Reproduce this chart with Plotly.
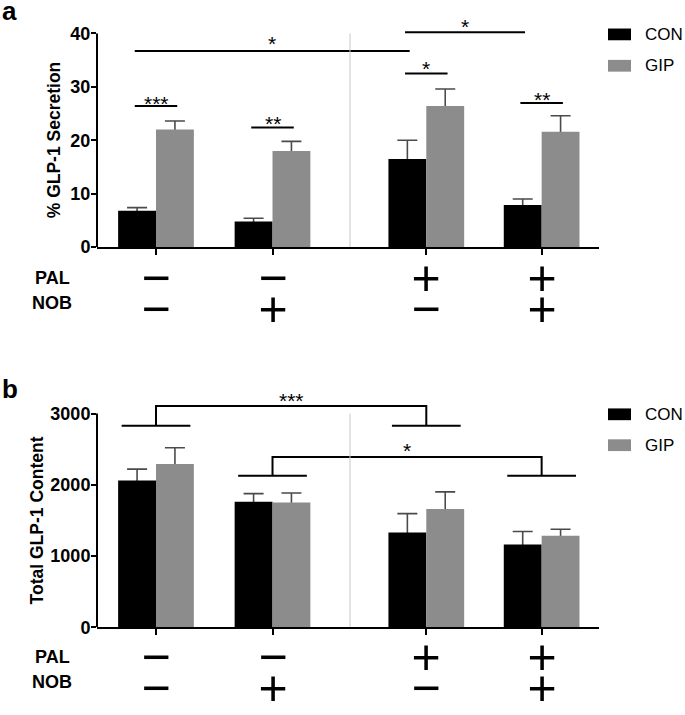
import plotly.graph_objects as go

# ---------------- data ----------------
series = ["CON", "GIP"]
pal = ["\u2212", "\u2212", "+", "+"]
nob = ["\u2212", "+", "\u2212", "+"]

secretion_con = [6.8, 4.8, 16.5, 7.9]
secretion_con_err = [0.6, 0.6, 3.5, 1.1]
secretion_gip = [22.0, 18.0, 26.4, 21.6]
secretion_gip_err = [1.6, 1.8, 3.2, 3.0]

content_con = [2060, 1760, 1330, 1160]
content_con_err = [160, 115, 265, 185]
content_gip = [2290, 1750, 1660, 1285]
content_gip_err = [230, 135, 240, 90]

# pairwise comparisons in panel a: (group, series) -> (group, series), line level, label
sig_a = [
    (0, 0, 0, 1, 26.4, "***"),
    (1, 0, 1, 1, 22.4, "**"),
    (2, 0, 2, 1, 32.5, "*"),
    (3, 0, 3, 1, 27.0, "**"),
    (0, 0, 2, 0, 36.7, "*"),
    (2, 0, 3, 0, 40.2, "*"),
]
# bracket comparisons in panel b: groupA, groupB, low level, high level, label
sig_b = [
    (0, 2, 2829, 3104, "***"),
    (1, 3, 2128, 2389, "*"),
]

# ---------------- layout constants ----------------
W, H = 685, 715
FONT = "Arial, Liberation Sans, Helvetica, sans-serif"
pos = [1, 2, 3.32, 4.31]
bar_w = 0.325
offsets = [-bar_w, 0.0]
colors = ["#000000", "#8c8c8c"]
err_color = "#4a4a4a"
xrange_ = [0.4936, 4.798]
divider_x = 2.665


def px(x):
    return x / W


def py(y):
    return 1 - y / H


fig = go.Figure()

panels = [
    dict(xa="x", ya="y", vals=[secretion_con, secretion_gip],
         errs=[secretion_con_err, secretion_gip_err]),
    dict(xa="x2", ya="y2", vals=[content_con, content_gip],
         errs=[content_con_err, content_gip_err]),
]

for p in panels:
    # error bars first (transparent carrier bars) so real bars cover the lower half
    for s in range(2):
        fig.add_trace(go.Bar(
            x=pos, y=p["vals"][s], width=bar_w, offset=offsets[s],
            marker=dict(color="rgba(0,0,0,0)", line=dict(width=0)),
            error_y=dict(type="data", array=p["errs"][s], arrayminus=p["errs"][s],
                         symmetric=False, color=err_color, thickness=1.6, width=10),
            showlegend=False, hoverinfo="skip",
            xaxis=p["xa"], yaxis=p["ya"]))
    for s in range(2):
        fig.add_trace(go.Bar(
            x=pos, y=p["vals"][s], width=bar_w, offset=offsets[s], name=series[s],
            marker=dict(color=colors[s], line=dict(width=0)),
            showlegend=False, xaxis=p["xa"], yaxis=p["ya"]))

shapes = []
annotations = []


def center(g, s):
    return pos[g] + offsets[s] + bar_w / 2


# panel a significance lines
gaps_a = [7.3, 8.7, 10, 7.7, 12, 10.7]
for (ga, sa, gb, sb, lvl, lab), gap in zip(sig_a, gaps_a):
    x0, x1 = center(ga, sa) - 0.02, center(gb, sb) + 0.02
    shapes.append(dict(type="line", xref="x", yref="y", x0=x0, x1=x1, y0=lvl, y1=lvl,
                       line=dict(color="black", width=2)))
    annotations.append(dict(x=(x0 + x1) / 2, y=lvl, xref="x", yref="y", text=lab,
                            showarrow=False, yanchor="middle", yshift=gap - 4.7,
                            font=dict(family=FONT, size=21, color="black")))

# panel b brackets
hw = 0.295
gaps_b = [10, 11]
for (ga, gb, lo, hi, lab), gap in zip(sig_b, gaps_b):
    a, b = pos[ga], pos[gb]
    path = (f"M{a - hw},{lo} H{a + hw} M{a},{lo} V{hi} H{b} V{lo} "
            f"M{b - hw},{lo} H{b + hw}")
    shapes.append(dict(type="path", xref="x2", yref="y2", path=path,
                       line=dict(color="black", width=2)))
    annotations.append(dict(x=(a + b) / 2, y=hi, xref="x2", yref="y2", text=lab,
                            showarrow=False, yanchor="middle", yshift=gap - 4.7,
                            font=dict(family=FONT, size=21, color="black")))

# dividers and manual y axis lines
for xa, ya, top in [("x", "y", 40), ("x2", "y2", 3000)]:
    shapes.append(dict(type="line", xref=xa, yref=ya, x0=divider_x, x1=divider_x,
                       y0=0, y1=top, line=dict(color="#c8c8c8", width=1)))
    shapes.append(dict(type="line", xref=f"{xa} domain", yref=ya, x0=0, x1=0,
                       y0=0, y1=top, line=dict(color="black", width=2)))

# panel letters
annotations.append(dict(x=0, y=py(7), xref="paper", yref="paper", text="<b>a</b>",
                        showarrow=False, xanchor="left", yanchor="middle",
                        font=dict(family=FONT, size=26, color="black")))
annotations.append(dict(x=0, y=py(393), xref="paper", yref="paper", text="<b>b</b>",
                        showarrow=False, xanchor="left", yanchor="middle",
                        font=dict(family=FONT, size=26, color="black")))

# y titles
annotations.append(dict(x=px(54), y=20, xref="paper", yref="y", text="<b>% GLP-1 Secretion</b>",
                        textangle=-90, showarrow=False, xanchor="center", yanchor="middle",
                        font=dict(family=FONT, size=17.5, color="black")))
annotations.append(dict(x=px(37), y=1500, xref="paper", yref="y2", text="<b>Total GLP-1 Content</b>",
                        textangle=-90, showarrow=False, xanchor="center", yanchor="middle",
                        font=dict(family=FONT, size=17.5, color="black")))

# PAL / NOB rows
for xa, pal_y, nob_y in [("x", 279, 311), ("x2", 666, 698)]:
    for lab, lab_y in [("PAL", pal_y + 0.5), ("NOB", nob_y - 6)]:
        annotations.append(dict(x=px(52), y=py(lab_y), xref="paper", yref="paper",
                                text=f"<b>{lab}</b>", showarrow=False,
                                xanchor="center", yanchor="middle",
                                font=dict(family=FONT, size=18, color="black")))
    for i in range(4):
        for sign, yy in [(pal[i], pal_y), (nob[i], nob_y)]:
            annotations.append(dict(x=pos[i], y=py(yy), xref=xa, yref="paper",
                                    text=sign, showarrow=False, xanchor="center",
                                    yanchor="middle", width=34, height=30,
                                    font=dict(family=FONT, size=50, color="black")))

# manual legends
for con_y, gip_y in [(31, 63), (418.5, 450)]:
    for s, cy in enumerate([con_y, gip_y]):
        shapes.append(dict(type="rect", xref="paper", yref="paper",
                           x0=px(608), x1=px(631), y0=py(cy - 6), y1=py(cy + 6),
                           fillcolor=colors[s], line=dict(width=0)))
        annotations.append(dict(x=px(643), y=py(cy), xref="paper", yref="paper",
                                text=series[s], showarrow=False, xanchor="left",
                                yanchor="middle",
                                font=dict(family=FONT, size=17, color="black")))

xdom = [px(97), px(598.5)]
xaxis_common = dict(range=xrange_, domain=xdom, tickvals=pos, showticklabels=False,
                    ticks="outside", ticklen=6, tickwidth=2, tickcolor="black",
                    showline=True, linewidth=2, linecolor="black",
                    showgrid=False, zeroline=False, fixedrange=True)
yaxis_common = dict(ticks="outside", ticklen=5, tickwidth=2, tickcolor="black",
                    showline=False, showgrid=False, zeroline=False,
                    ticklabelstandoff=-3,
                    tickfont=dict(family=FONT, size=18, color="black", weight="bold"))

fig.update_layout(
    width=W, height=H,
    margin=dict(l=0, r=0, t=0, b=0),
    paper_bgcolor="white", plot_bgcolor="white",
    barmode="overlay", showlegend=False,
    xaxis=dict(**xaxis_common, anchor="y"),
    xaxis2=dict(**xaxis_common, anchor="y2"),
    yaxis=dict(**yaxis_common, range=[0, 41], tickvals=[0, 10, 20, 30, 40],
               domain=[py(248), py(24.55)], anchor="x"),
    yaxis2=dict(**yaxis_common, range=[0, 3150], tickvals=[0, 1000, 2000, 3000],
                domain=[py(635.7), py(406.8)], anchor="x2"),
    shapes=shapes, annotations=annotations,
)

fig.write_html("out.html", config={"displayModeBar": False},
               post_script="document.body.style.margin='0px';document.body.style.overflow='hidden';")
